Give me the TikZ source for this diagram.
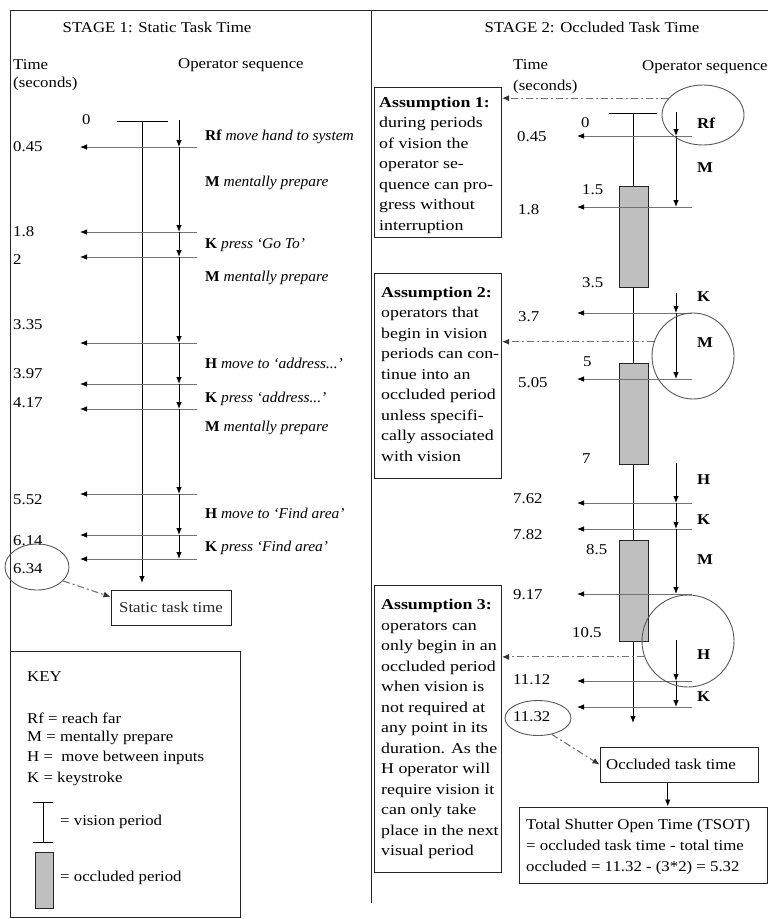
\documentclass[tikz,border=0pt]{standalone}
\usepackage{fontspec}
\setmainfont[FakeStretch=1.12]{Liberation Serif}
\newfontfamily\asfont[FakeStretch=1.19]{Liberation Serif}
\newfontfamily\opfont[FakeStretch=1.03,Ligatures=TeX]{Liberation Serif}
\usetikzlibrary{arrows.meta,shapes.geometric}
\begin{document}
\begin{tikzpicture}[x=1pt,y=-1pt,
  txt/.style={font=\fontsize{15}{17}\selectfont, inner sep=0pt, anchor=west},
  ctxt/.style={font=\fontsize{15}{17}\selectfont, inner sep=0pt},
  optxt/.style={font=\opfont\fontsize{15}{17}\selectfont, inner sep=0pt, anchor=west},
  para/.style={font=\asfont\fontsize{15}{20.5}\selectfont, inner sep=0pt, anchor=north west, align=left},
  frame/.style={line width=0.9pt, black!85},
  box/.style={draw, line width=1pt, black!85, inner sep=0pt},
  hl/.style={black!55, line width=0.8pt, -{Latex[length=7pt,width=5.5pt,color=black]}},
  vl/.style={black, line width=0.9pt, -{Latex[length=7pt,width=5.5pt]}},
  tl/.style={black, line width=0.9pt},
  occ/.style={draw, line width=0.9pt, black!85, fill=black!25},
  dd/.style={black!55, line width=1.1pt, dash pattern={on 7pt off 3pt on 2pt off 3pt}, -{Latex[length=7pt,width=6pt,color=black!80]}},
  ring/.style={draw, ellipse, black!65, line width=0.9pt, inner sep=0pt},
  opb/.style={txt, font=\fontsize{15}{17}\selectfont\bfseries}
]
\useasboundingbox (0,0) rectangle (768,919);
\fill[white] (0,0) rectangle (768,919);

% frame
\draw[frame] (10,651) -- (10,10) -- (768,10);
\draw[frame] (371,10) -- (371,903);

% ================= STAGE 1 =================
\node[ctxt] (t1) at (157,27) {STAGE 1: Static Task Time};
\node[txt] (time1) at (13,65) {Time};
\node[txt] (sec1) at (13,84) {(seconds)};
\node[txt] (ops1) at (178,65) {Operator sequence};

\node[txt] (z1) at (82,120) {0};
\coordinate (b1l) at (117,121); \coordinate (b1r) at (168,121);
\draw[tl] (b1l) -- (b1r);
\coordinate (tl1a) at (142,121); \coordinate (tl1b) at (142,583);
\draw[vl] (tl1a) -- (tl1b);

% operator line, left arrows
\coordinate (o0) at (179,120);
\foreach \y [count=\i, remember=\i as \j (initially 0)] in {147,232,257,343,384,409,494,535,559}{
  \coordinate (o\i) at (179,\y);
  \draw[vl] (o\j) -- (o\i);
  \coordinate (hr\i) at (197,\y);
  \coordinate (hl\i) at (80,\y);
  \draw[hl] (hr\i) -- (hl\i);
}
\foreach \t/\y [count=\i] in {0.45/147,1.8/232,2/260,3.35/325,3.97/374,4.17/403,5.52/500,6.14/541,6.34/569}{
  \node[txt] (tv\i) at (13,\y) {\t};
}

\node[optxt] (op1) at (205,137) {\textbf{Rf} \textit{move hand to system}};
\node[optxt] (op2) at (205,183) {\textbf{M} \textit{mentally prepare}};
\node[optxt] (op3) at (205,245) {\textbf{K} \textit{press ‘Go To’}};
\node[optxt] (op4) at (205,278) {\textbf{M} \textit{mentally prepare}};
\node[optxt] (op5) at (205,363) {\textbf{H} \textit{move to ‘address...’}};
\node[optxt] (op6) at (205,399) {\textbf{K} \textit{press ‘address...’}};
\node[optxt] (op7) at (205,428) {\textbf{M} \textit{mentally prepare}};
\node[optxt] (op8) at (205,513) {\textbf{H} \textit{move to ‘Find area’}};
\node[optxt] (op9) at (205,548) {\textbf{K} \textit{press ‘Find area’}};

\node[ring, minimum width=64pt, minimum height=46pt] (e634) at (37,567) {};
\node[box, minimum width=120pt, minimum height=35pt, font=\fontsize{15}{17}\selectfont] (stb) at (171,607.5) {Static task time};
\draw[dd] (e634.-28) -- (stb.170);

% KEY
\node[box, anchor=north west, minimum width=230pt, minimum height=266pt] (key) at (10,651) {};
\node[txt] (keyt) at (27,677) {KEY};
\node[txt] (k1) at (27,718) {Rf = reach far};
\node[txt] (k2) at (27,738) {M = mentally prepare};
\node[txt] (k3) at (27,758) {H = \ move between inputs};
\node[txt] (k4) at (27,779) {K = keystroke};
\coordinate (vk1) at (33,802); \coordinate (vk2) at (53,802);
\coordinate (vk3) at (33,842); \coordinate (vk4) at (53,842);
\coordinate (vk5) at (43,802); \coordinate (vk6) at (43,842);
\draw[tl] (vk1) -- (vk2); \draw[tl] (vk3) -- (vk4); \draw[tl] (vk5) -- (vk6);
\node[txt] (kv) at (60,822) {= vision period};
\draw[occ] (35,852) rectangle (53,908);
\node[txt] (ko) at (60,878) {= occluded period};

% ================= STAGE 2 =================
\node[ctxt] (t2) at (592,27) {STAGE 2: Occluded Task Time};
\node[txt] (time2) at (513,65) {Time};
\node[txt] (sec2) at (513,87) {(seconds)};
\node[txt] (ops2) at (642,67) {Operator sequence};

% timeline
\coordinate (b2l) at (609,113); \coordinate (b2r) at (657,113);
\draw[tl] (b2l) -- (b2r);
\coordinate (tl2a) at (633,113); \coordinate (tl2b) at (633,723);
\draw[vl] (tl2a) -- (tl2b);
\draw[occ] (619,186) rectangle (648,287);
\draw[occ] (619,363) rectangle (648,464);
\draw[occ] (619,540) rectangle (648,641);

% time labels
\foreach \t/\x/\y [count=\i] in {0/581/123,0.45/517/137,1.5/582/190,1.8/518/210,3.5/582/283,3.7/518/317,5/583/362,5.05/518/383,7/582/459,7.62/513/499,7.82/513/535,8.5/586/550,9.17/513/595,10.5/572/633,11.12/513/680,11.32/513/717}{
  \node[txt] (rt\i) at (\x,\y) {\t};
}

% left arrows
\foreach \y [count=\i] in {136,207,313,379,503,529,594,681,707}{
  \coordinate (rr\i) at (692,\y);
  \coordinate (rl\i) at (577,\y);
  \draw[hl] (rr\i) -- (rl\i);
}

% operator arrows
\foreach \a/\b [count=\i] in {112/136,136/207,293/313,313/379,463/503,503/529,529/594,640/681,681/707}{
  \coordinate (pa\i) at (676,\a);
  \coordinate (pb\i) at (676,\b);
  \draw[vl] (pa\i) -- (pb\i);
}

% operator labels
\foreach \o/\y [count=\i] in {Rf/123,M/168,K/297,M/343,H/480,K/520,M/560,H/655,K/697}{
  \node[opb] (ro\i) at (697,\y) {\o};
}

% rings
\node[ring, minimum width=82pt, minimum height=60pt] (rfE) at (703,115) {};
\node[ring, minimum width=82pt, minimum height=86pt] (mE) at (693,356) {};
\node[ring, minimum width=92pt, minimum height=92pt] (hE) at (688,641) {};
\node[ring, minimum width=66pt, minimum height=35pt] (e1132) at (538,718) {};

% assumption boxes
\node[box, anchor=north west, minimum width=127pt, minimum height=150pt] (a1) at (374,87) {};
\node[para] (a1t) at (379,96.5) {\textbf{Assumption 1:}\\during periods\\of vision the\\operator se-\\quence can pro-\\gress without\\interruption};
\node[box, anchor=north west, minimum width=127pt, minimum height=205pt] (a2) at (374,273) {};
\node[para] (a2t) at (381,286.5) {\textbf{Assumption 2:}\\operators that\\begin in vision\\periods can con-\\tinue into an\\occluded period\\unless specifi-\\cally associated\\with vision};
\node[box, anchor=north west, minimum width=127pt, minimum height=287pt] (a3) at (374,585) {};
\node[para] (a3t) at (381,599) {\textbf{Assumption 3:}\\operators can\\only begin in an\\occluded period\\when vision is\\not required at\\any point in its\\duration. As the\\H operator will\\require vision it\\can only take\\place in the next\\visual period};

\draw[dd] (rfE.154) -- (rfE.154 -| a1.east);
\draw[dd] (mE.160) -- (mE.160 -| a2.east);
\draw[dd] (hE.200) -- (hE.200 -| a3.east);

% result boxes
\node[box, minimum width=158pt, minimum height=35pt] (ob) at (679,764.5) {};
\node[txt] (obt) at (606,764.5) {Occluded task time};
\node[box, minimum width=248pt, minimum height=76pt] (tsot) at (643,845) {};
\node[para, font=\fontsize{15}{21}\selectfont] (tsott) at (526,818.5) {Total Shutter Open Time (TSOT)\\= occluded task time - total time\\occluded = 11.32 - (3*2) = 5.32};
\draw[dd] (e1132.-50) -- (ob.west);
\draw[vl] (ob.238) -- (ob.238 |- tsot.north);

\end{tikzpicture}
\end{document}
